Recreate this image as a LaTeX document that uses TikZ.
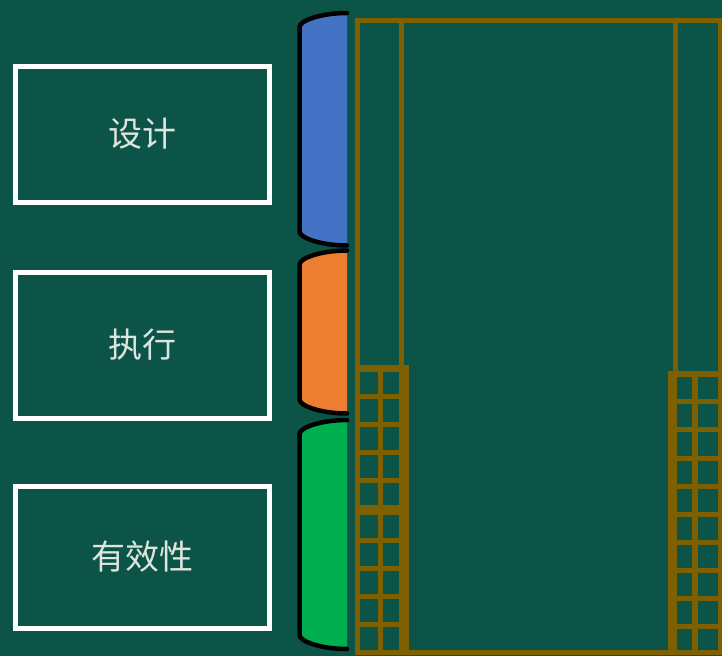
\documentclass[tikz,border=0pt]{standalone}
\usepackage{fontspec}
\newfontfamily\cjk{Noto Sans CJK SC}
\usepackage{xcolor}
\definecolor{board-bg}{RGB}{12,84,72}
\definecolor{frame-brown}{RGB}{127,96,0}
\definecolor{tab-blue}{RGB}{68,114,196}
\definecolor{tab-orange}{RGB}{237,125,49}
\definecolor{tab-green}{RGB}{0,176,80}
\definecolor{label-grey}{RGB}{222,228,222}
\usepackage{tikz}
\usetikzlibrary{positioning}

\begin{document}
\begin{tikzpicture}[
    x=1pt, y=-1pt,
    labelbox/.style={
        draw=white,
        line width=5pt,
        minimum width=254.5pt,
        text=label-grey,
        font=\cjk\fontsize{34}{40}\selectfont
    },
    framebar/.style={draw=frame-brown, line width=5pt},
    tabedge/.style={draw=black, line width=4.5pt, line cap=round}
]

% Board background
\fill[board-bg] (0,0) rectangle (722,656);
\useasboundingbox (0,0) rectangle (722,656);

% Label boxes
\node[labelbox, minimum height=136pt] (design) at (142.25,134) {设计};
\node[labelbox, minimum height=146pt] (execute) at (142.25,345) {执行};
\node[labelbox, minimum height=142pt] (effect) at (142.25,557) {有效性};

% Coloured tabs
\foreach \t/\b/\c in {13/245.5/tab-blue, 250.5/413.5/tab-orange, 420/649/tab-green}{
    \fill[\c] (347,\t) .. controls (320.8,\t) and (299.5,\t+7.7) .. (299.5,\t+14)
        -- (299.5,\b-14) .. controls (299.5,\b-7.7) and (320.8,\b) .. (347,\b) -- cycle;
    \draw[tabedge] (347,\t) .. controls (320.8,\t) and (299.5,\t+7.7) .. (299.5,\t+14)
        -- (299.5,\b-14) .. controls (299.5,\b-7.7) and (320.8,\b) .. (347,\b);
}

% Outer frame and column lines
\draw[framebar] (357.5,20.5) rectangle (720,652);
\draw[framebar] (401,20.5) -- (401,368);
\draw[framebar] (675,20.5) -- (675,372);

% Left ladder
\draw[framebar, line width=7pt] (357.5,368.5) -- (405,368.5);
\draw[framebar, line width=10pt] (404,365) -- (404,652);
\draw[framebar] (380.5,368.5) -- (380.5,652);
\foreach \y in {396,424,452,480,540,568,596,624}
    \draw[framebar] (357.5,\y) -- (404,\y);
\draw[framebar, line width=10pt] (357.5,510) -- (404,510);

% Right ladder
\draw[framebar, line width=6pt] (668,374) -- (720,374);
\draw[framebar, line width=9pt] (672.5,371) -- (672.5,652);
\draw[framebar, line width=6pt] (695,374) -- (695,652);
\foreach \y in {401.5,429.5,458,486,514,542,570,598,626}
    \draw[framebar] (672.5,\y) -- (720,\y);

\end{tikzpicture}
\end{document}
